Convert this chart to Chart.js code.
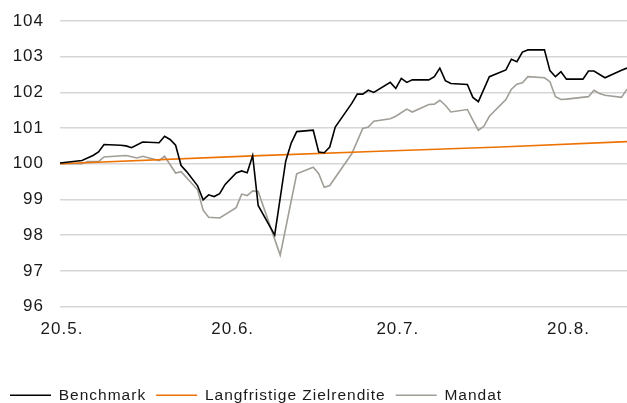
<!DOCTYPE html>
<html>
<head>
<meta charset="utf-8">
<script src="https://cdn.jsdelivr.net/npm/chart.js@4"></script>
<style>
  body { margin: 0; background: #fff; }
  #box { width: 627px; height: 403px; }
</style>
</head>
<body>
<div id="box"><canvas id="chart"></canvas></div>
<script>
// Tage ab 20.5. (x-Achse)
const tickTage = [0, 31, 61, 92];
const tickLabels = ['20.5.', '20.6.', '20.7.', '20.8.'];

const benchmarkTage = [0, 4, 6, 7, 8, 11, 12, 13, 15, 18, 19, 20, 21, 22, 23, 25, 26, 27, 28, 29, 30,
    32, 33, 34, 35, 36, 39, 41, 42, 43, 46, 47, 48, 49, 50, 53, 54, 55, 56, 57, 60, 61, 62, 63, 64,
    67, 68, 69, 70, 71, 74, 75, 76, 78, 81, 82, 83, 84, 85, 88, 89, 90, 91, 92, 95, 96, 97, 99, 102, 103];
const benchmarkWerte = [100.02, 100.09, 100.23, 100.33, 100.54, 100.52, 100.50, 100.45, 100.61, 100.59,
    100.77, 100.68, 100.52, 99.95, 99.78, 99.38, 98.99, 99.13, 99.08, 99.16, 99.42,
    99.74, 99.80, 99.75, 100.23, 98.83, 98.00, 100.07, 100.58, 100.90, 100.94, 100.33, 100.31, 100.47, 101.03,
    101.69, 101.95, 101.95, 102.06, 102.00, 102.28, 102.11, 102.39, 102.28, 102.35,
    102.35, 102.44, 102.68, 102.33, 102.25, 102.22, 101.86, 101.74, 102.44, 102.63, 102.93, 102.86, 103.13, 103.19,
    103.19, 102.61, 102.44, 102.58, 102.37, 102.37, 102.60, 102.60, 102.41, 102.62, 102.68];

const zielTage = [0, 35, 58, 80, 103];
const zielWerte = [100.00, 100.22, 100.35, 100.47, 100.62];

const mandatTage = [0, 4, 5, 7, 8, 12, 14, 15, 18, 19, 21, 22, 25, 26, 27, 29, 32, 33, 34, 35, 36, 40,
    43, 46, 47, 48, 49, 53, 55, 56, 57, 60, 61, 63, 64, 67, 68, 69, 70, 71, 74, 75, 76, 77, 78,
    81, 82, 83, 84, 85, 88, 89, 90, 91, 92, 96, 97, 98, 99, 102, 103];
const mandatWerte = [100.00, 100.00, 100.06, 100.06, 100.19, 100.23, 100.16, 100.21, 100.09, 100.21,
    99.74, 99.78, 99.27, 98.70, 98.50, 98.48, 98.77, 99.15, 99.11, 99.24, 99.22, 97.44,
    99.72, 99.90, 99.72, 99.34, 99.39, 100.28, 100.99, 101.03, 101.19, 101.26, 101.33, 101.53, 101.45,
    101.66, 101.67, 101.78, 101.64, 101.45, 101.52, 101.22, 100.94, 101.05, 101.33,
    101.80, 102.09, 102.23, 102.27, 102.44, 102.41, 102.30, 101.88, 101.80, 101.81, 101.88, 102.06, 101.97,
    101.92, 101.86, 102.09];

function punkte(tage, werte) {
    return tage.map((t, i) => ({ x: t, y: werte[i] }));
}

const feinschliff = {
    id: 'feinschliff',
    beforeUpdate(chart) { chart.ctx.letterSpacing = '1px'; },
    beforeDraw(chart) { chart.ctx.letterSpacing = '1px'; },
    afterLayout(chart) {
        // Legende etwas tiefer setzen
        chart.legend.top += 10;
        chart.legend.bottom += 10;
    }
};

const ctx = document.getElementById('chart').getContext('2d');
new Chart(ctx, {
    type: 'line',
    data: {
        datasets: [
            {
                label: 'Benchmark',
                data: punkte(benchmarkTage, benchmarkWerte),
                borderColor: '#000000',
                backgroundColor: '#000000',
                borderWidth: 1.6
            },
            {
                label: 'Langfristige Zielrendite',
                data: punkte(zielTage, zielWerte),
                borderColor: '#ee7203',
                backgroundColor: '#ee7203',
                borderWidth: 1.6
            },
            {
                label: 'Mandat',
                data: punkte(mandatTage, mandatWerte),
                borderColor: '#a19d97',
                backgroundColor: '#a19d97',
                borderWidth: 1.6
            }
        ]
    },
    options: {
        responsive: true,
        maintainAspectRatio: false,
        animation: false,
        layout: { padding: { top: 21, right: 0, left: 0, bottom: 0 } },
        elements: { point: { radius: 0 }, line: { tension: 0 } },
        font: { family: '"Liberation Sans", Arial, sans-serif' },
        plugins: {
            tooltip: { enabled: false },
            legend: {
                position: 'bottom',
                align: 'start',
                labels: {
                    color: '#1a1a1a',
                    font: { size: 15.5, family: '"Liberation Sans", Arial, sans-serif' },
                    boxWidth: 41,
                    boxHeight: 0,
                    padding: 10
                }
            }
        },
        scales: {
            x: {
                type: 'linear',
                min: 0,
                max: 103,
                grid: { display: false },
                border: { display: false },
                afterBuildTicks: scale => {
                    scale.ticks = tickTage.map(t => ({ value: t }));
                },
                afterFit: scale => { scale.height = 61; },
                ticks: {
                    color: '#1a1a1a',
                    font: { size: 17, family: '"Liberation Sans", Arial, sans-serif' },
                    padding: 5,
                    maxRotation: 0,
                    autoSkip: false,
                    labelOffset: 2,
                    callback: value => tickLabels[tickTage.indexOf(value)]
                }
            },
            y: {
                min: 96,
                max: 104,
                afterFit: scale => {
                    scale.width = 60;
                    scale.paddingTop = 0;
                    scale.paddingBottom = 0;
                },
                grid: {
                    color: '#d6d6d6',
                    lineWidth: 1.6,
                    drawTicks: false
                },
                border: { display: false },
                ticks: {
                    stepSize: 1,
                    color: '#1a1a1a',
                    font: { size: 17, family: '"Liberation Sans", Arial, sans-serif' },
                    padding: 16
                }
            }
        }
    },
    plugins: [feinschliff]
});
</script>
</body>
</html>
